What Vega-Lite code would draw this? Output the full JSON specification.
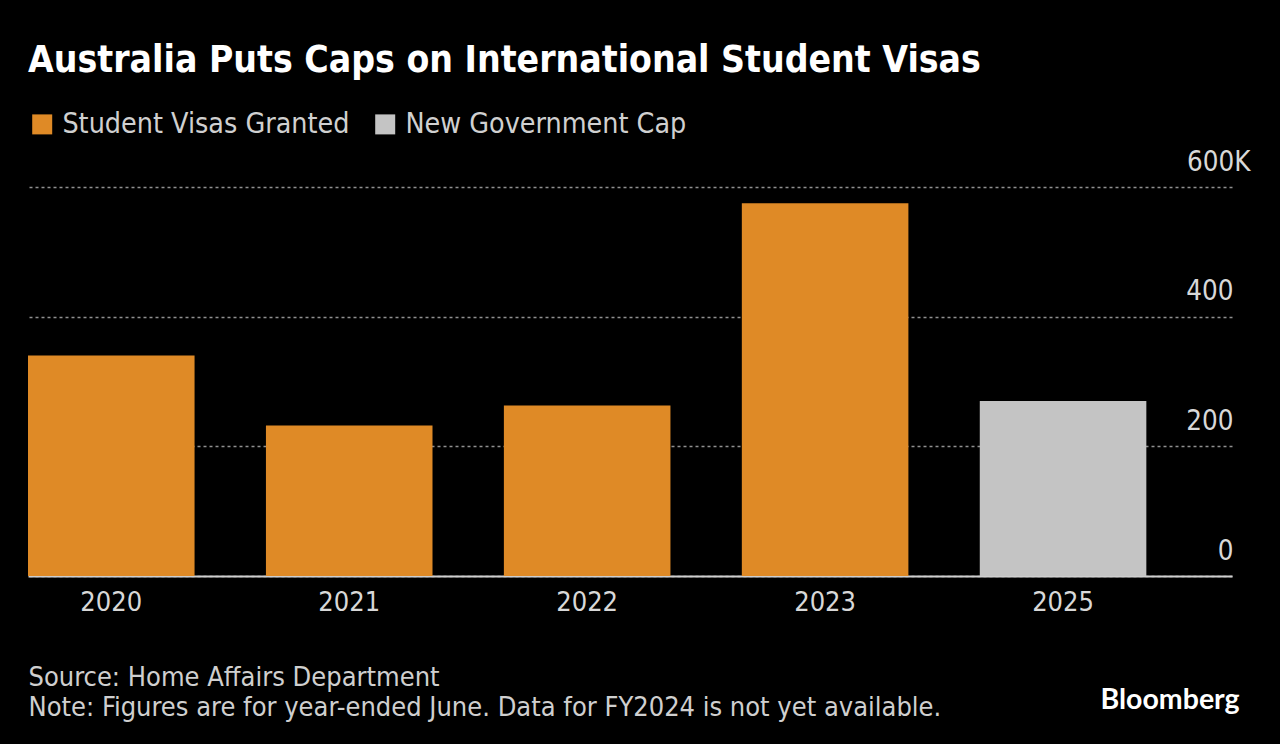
{
  "$schema": "https://vega.github.io/schema/vega-lite/v6.json",
  "width": 1204,
  "height": 389,
  "autosize": {"type": "none"},
  "padding": {"left": 28, "top": 187, "right": 48, "bottom": 168},
  "background": "#000000",
  "title": {
    "text": "Australia Puts Caps on International Student Visas",
    "anchor": "start",
    "frame": "group",
    "font": "DejaVu Sans Condensed, Lato",
    "fontSize": 37,
    "fontWeight": "bold",
    "color": "#ffffff",
    "baseline": "alphabetic",
    "offset": 0,
    "dy": -1
  },
  "data": {
    "values": [
      {"year": "2020", "value": 340, "series": "Student Visas Granted"},
      {"year": "2021", "value": 232, "series": "Student Visas Granted"},
      {"year": "2022", "value": 263, "series": "Student Visas Granted"},
      {"year": "2023", "value": 575, "series": "Student Visas Granted"},
      {"year": "2025", "value": 270, "series": "New Government Cap"}
    ]
  },
  "mark": {"type": "bar"},
  "encoding": {
    "x": {
      "field": "year",
      "type": "nominal",
      "sort": null,
      "scale": {"type": "band", "paddingInner": 0.3, "paddingOuter": 0.18, "align": 0},
      "axis": {
        "title": ["Source: Home Affairs Department", "Note: Figures are for year-ended June. Data for FY2024 is not yet available."],
        "titleAnchor": "start",
        "titleAlign": "left",
        "titleX": 0,
        "titleY": 109,
        "titleBaseline": "alphabetic",
        "titleFont": "DejaVu Sans Condensed, Lato",
        "titleFontSize": 27,
        "titleFontWeight": "normal",
        "titleColor": "#cfcfcf",
        "titleLineHeight": 30,
        "labelAngle": 0,
        "labelFont": "DejaVu Sans Condensed, Lato",
        "labelFontSize": 27,
        "labelColor": "#d8d8d8",
        "labelPadding": 13,
        "ticks": false,
        "domainColor": "#cfcfcf",
        "domainWidth": 2,
        "grid": false
      }
    },
    "y": {
      "field": "value",
      "type": "quantitative",
      "scale": {"domain": [0, 600], "nice": false},
      "axis": {
        "orient": "right",
        "values": [0, 200, 400, 600],
        "labelExpr": "datum.value == 600 ? '600K' : datum.label",
        "labelAlign": "right",
        "labelBaseline": "alphabetic",
        "labelOffset": -17,
        "labelPadding": {"condition": {"test": "datum.value == 600", "value": 18}, "value": 1},
        "labelFont": "DejaVu Sans Condensed, Lato",
        "labelFontSize": 27.5,
        "labelColor": "#d8d8d8",
        "ticks": false,
        "domain": false,
        "grid": true,
        "gridColor": "#909090",
        "gridDash": [3, 3],
        "gridWidth": 1.5,
        "title": "Bloomberg",
        "titleAngle": 0,
        "titleX": -132,
        "titleY": 521,
        "titleAlign": "left",
        "titleBaseline": "alphabetic",
        "titleFont": "Lato",
        "titleFontSize": 28.5,
        "titleFontWeight": "bold",
        "titleColor": "#ffffff"
      }
    },
    "color": {
      "field": "series",
      "type": "nominal",
      "scale": {"domain": ["Student Visas Granted", "New Government Cap"], "range": ["#df8a26", "#c4c4c4"]},
      "legend": {
        "title": null,
        "orient": "none",
        "legendX": 0,
        "legendY": -77,
        "direction": "horizontal",
        "symbolType": "square",
        "symbolSize": 400,
        "symbolStrokeWidth": 0,
        "labelFont": "DejaVu Sans Condensed, Lato",
        "labelFontSize": 28.4,
        "labelColor": "#d0d0d0",
        "labelOffset": 6,
        "labelLimit": 0,
        "columnPadding": 21
      }
    }
  },
  "config": {
    "view": {"stroke": null}
  }
}
